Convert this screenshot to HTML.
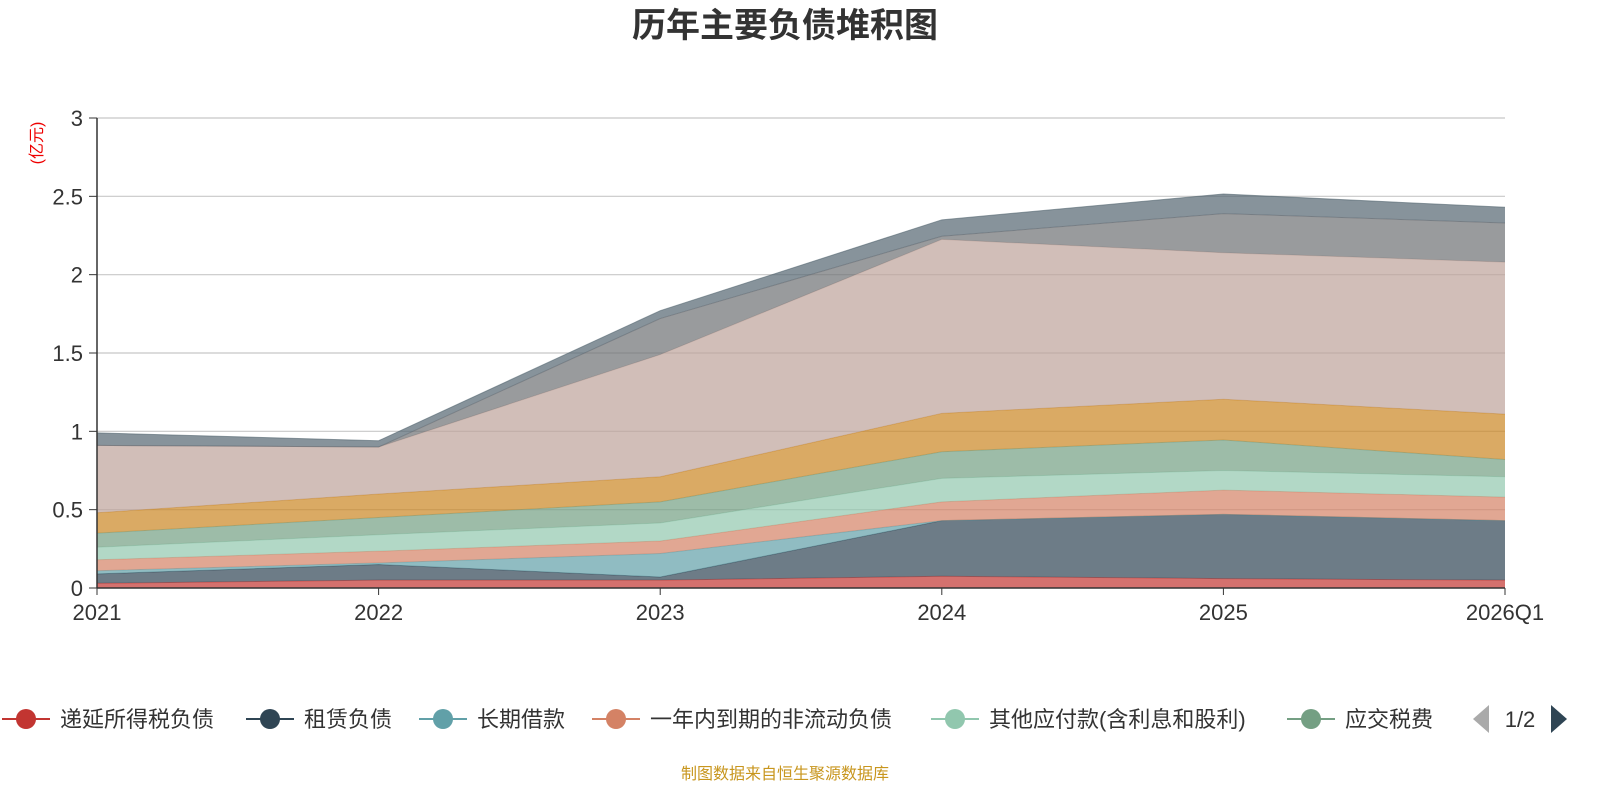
<!DOCTYPE html>
<html><head><meta charset="utf-8">
<style>
html,body{margin:0;padding:0;background:#fff;}
body{width:1600px;height:800px;overflow:hidden;font-family:"Liberation Sans","Noto Sans CJK SC",sans-serif;}
</style></head>
<body>
<svg id="chart" width="1600" height="800" xmlns="http://www.w3.org/2000/svg">
<text x="785" y="37" text-anchor="middle" font-size="34" font-weight="bold" fill="#333" font-family="Liberation Sans, Noto Sans CJK SC, sans-serif">历年主要负债堆积图</text>
<text transform="translate(42,143) rotate(-90)" text-anchor="middle" font-size="16" fill="#e00" font-family="Liberation Sans, Noto Sans CJK SC, sans-serif">(亿元)</text>
<g id="grid"></g>
<g id="areas"></g>
<g id="axes"></g>
<g id="legend"></g>
<text x="785" y="779" text-anchor="middle" font-size="16" fill="#c8961e" font-family="Liberation Sans, Noto Sans CJK SC, sans-serif">制图数据来自恒生聚源数据库</text>
</svg>
<script>
const categories = ['2021','2022','2023','2024','2025','2026Q1'];
const yTicks = [0,0.5,1,1.5,2,2.5,3];
const seriesNames = ['递延所得税负债','租赁负债','长期借款','一年内到期的非流动负债','其他应付款(含利息和股利)','应交税费','应付职工薪酬','应付账款','合同负债','应付票据'];
const s1 = [0.03,0.05,0.05,0.075,0.06,0.05];
const s2 = [0.06,0.10,0.02,0.355,0.41,0.38];
const s3 = [0.02,0.01,0.15,0,0,0];
const s4 = [0.07,0.075,0.08,0.12,0.155,0.15];
const s5 = [0.08,0.105,0.115,0.15,0.125,0.13];
const s6 = [0.09,0.11,0.135,0.17,0.195,0.11];
const s7 = [0.13,0.15,0.16,0.245,0.26,0.29];
const s8 = [0.43,0.30,0.78,1.11,0.935,0.97];
const s9 = [0,0,0.23,0.02,0.25,0.25];
const s10 = [0.08,0.04,0.05,0.105,0.125,0.10];
const seriesValues = [s1,s2,s3,s4,s5,s6,s7,s8,s9,s10];
const colors = ['#c23531','#2f4554','#61a0a8','#d48265','#91c7ae','#749f83','#ca8622','#bda29a','#6e7074','#546570'];
const NS='http://www.w3.org/2000/svg';
const X0=97,X1=1505,Y0=588,Y1=118,YMAX=3;
const xs=i=>X0+(X1-X0)*i/(categories.length-1);
const ys=v=>Y0-(Y0-Y1)*v/YMAX;
function mk(tag,attrs,parent){const e=document.createElementNS(NS,tag);for(const k in attrs)e.setAttribute(k,attrs[k]);parent.appendChild(e);return e;}
const grid=document.getElementById('grid'),areas=document.getElementById('areas'),axes=document.getElementById('axes'),legend=document.getElementById('legend');
yTicks.forEach(t=>{
  const y=ys(t);
  if(t>0){const l=mk('line',{x1:X0,x2:X1,y1:y,y2:y,stroke:'#c8c8c8','stroke-width':1.2},grid);
  
  }
  const tk=mk('line',{x1:X0-8,x2:X0,y1:y,y2:y,stroke:'#333'},axes);
  
  
  const tx=mk('text',{x:X0-14,y:y+8,'text-anchor':'end','font-size':22,fill:'#333'},axes);
  tx.textContent=String(t);
  
  
});
let cum=categories.map(()=>0);
seriesValues.forEach((vals,si)=>{
  const lower=cum.slice();
  cum=cum.map((c,i)=>c+vals[i]);
  let d='M'+categories.map((c,i)=>xs(i)+','+ys(cum[i])).join(' L');
  for(let i=categories.length-1;i>=0;i--)d+=' L'+xs(i)+','+ys(lower[i]);
  d+=' Z';
  const p=mk('path',{d:d,fill:colors[si],'fill-opacity':0.7,stroke:'none'},areas);
  
  
  const ln=mk('polyline',{points:categories.map((c,i)=>xs(i)+','+ys(cum[i])).join(' '),fill:'none',stroke:colors[si],'stroke-opacity':0.6,'stroke-width':1},areas);
  
  
});
const ya=mk('line',{x1:X0,x2:X0,y1:Y1,y2:Y0,stroke:'#333','stroke-width':1.5},axes);


const xa=mk('line',{x1:X0,x2:X1,y1:Y0,y2:Y0,stroke:'#333','stroke-width':1.5},axes);


categories.forEach((c,i)=>{
  const tk=mk('line',{x1:xs(i),x2:xs(i),y1:Y0,y2:Y0+7,stroke:'#333'},axes);
  
  
  const tx=mk('text',{x:xs(i),y:620,'text-anchor':'middle','font-size':22,fill:'#333'},axes);
  tx.textContent=c;
  
  
});
const legendX=[26,270,443,616,955,1311];
const textX=[60,304,477,650,989,1345];
for(let i=0;i<6;i++){
  const g=mk('g',{},legend);
  
  
  mk('line',{x1:legendX[i]-24,x2:legendX[i]+24,y1:719,y2:719,stroke:colors[i],'stroke-width':2},g);
  mk('circle',{cx:legendX[i],cy:719,r:10,fill:colors[i]},g);
  const t=mk('text',{x:textX[i],y:727,'font-size':22,fill:'#333'},g);
  t.textContent=seriesNames[i];
}
const pl=mk('polygon',{points:'1473,719 1489,705 1489,733',fill:'#aaa'},legend);


const pt=mk('text',{x:1520,y:727,'font-size':22,fill:'#333','text-anchor':'middle'},legend);
pt.textContent='1/2';


const pr=mk('polygon',{points:'1567,719 1551,705 1551,733',fill:'#2f4554'},legend);


</script>
</body></html>
